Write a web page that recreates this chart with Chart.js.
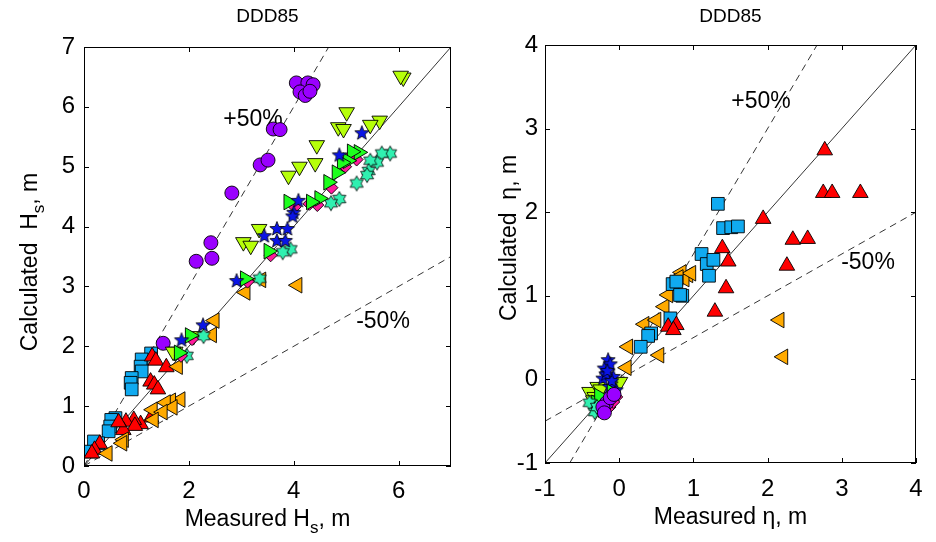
<!DOCTYPE html>
<html>
<head>
<meta charset="utf-8">
<title>DDD85</title>
<script src="https://cdn.jsdelivr.net/npm/chart.js@4.4.1/dist/chart.umd.min.js"></script>
<style>
  body { margin: 0; background: #fff; }
  #wrap { position: relative; width: 936px; height: 542px; }
  #wrap canvas { position: absolute; top: 0; }
</style>
</head>
<body>
<div id="wrap">
  <canvas id="hsChart" width="470" height="542" style="left:0;width:470px;height:542px"></canvas>
  <canvas id="etaChart" width="466" height="542" style="left:470px;width:466px;height:542px"></canvas>
</div>
<script>
// ---- significant wave height, measured vs calculated [m] ----
const hsCircle = [[4.05,6.40],[4.27,6.40],[4.37,6.37],[4.12,6.25],[4.22,6.19],[4.31,6.26],[3.61,5.63],[3.74,5.62],
  [3.36,5.03],[3.51,5.11],[2.82,4.56],[2.42,3.73],[2.14,3.42],[2.44,3.47],[1.51,2.05]];
const hsTriDown = [[6.09,6.49],[6.04,6.52],[5.01,5.91],[4.85,5.66],[4.95,5.63],[5.64,5.77],[5.46,5.70],[4.44,5.36],
  [4.41,5.06],[4.11,5.00],[3.90,4.85],[3.34,3.96],[3.04,3.74],[3.18,3.68],[2.09,2.17],[1.74,1.91],[1.70,1.91]];
const hsStar = [[5.30,5.56],[4.87,5.19],[4.09,4.43],[4.00,4.23],[3.98,4.17],[3.68,3.96],[3.88,3.96],[3.68,3.76],
  [3.84,3.76],[3.44,3.84],[2.91,3.09],[2.27,2.35],[1.86,2.10]];
const hsTriRight = [[5.24,5.24],[5.11,5.25],[5.03,5.10],[4.92,5.07],[4.82,4.90],[4.66,4.74],[4.49,4.47],[4.33,4.41],
  [3.90,4.41],[3.52,3.59],[3.07,3.13],[2.02,2.18],[1.81,1.89]];
const hsDiamond = [[5.20,5.12],[4.98,5.00],[4.72,4.65],[4.45,4.36],[4.02,4.33],[4.30,4.38],[3.56,3.52],[3.12,3.08],
  [2.06,2.12],[1.85,1.84],[5.08,5.18]];
const hsHex = [[5.84,5.22],[5.68,5.22],[5.59,5.07],[5.46,5.10],[5.43,4.93],[5.40,4.86],[5.20,4.72],[4.87,4.46],
  [4.71,4.39],[3.94,3.62],[3.79,3.57],[3.35,3.13],[2.28,2.17],[1.96,1.84]];
const hsTriLeft = [[4.07,3.02],[3.38,3.11],[3.08,2.90],[2.49,2.43],[2.44,2.19],[1.79,1.66],[1.84,1.11],[1.66,1.09],
  [1.56,1.06],[1.69,0.98],[1.31,0.94],[1.50,0.90],[1.33,0.77],[0.76,0.44],[0.73,0.38],[0.45,0.21]];
const hsTriUp = [[1.30,1.83],[1.37,1.76],[1.57,1.65],[1.27,1.41],[1.34,1.36],[1.41,1.28],[1.28,0.81],[1.08,0.70],
  [0.95,0.77],[0.80,0.74],[0.97,0.67],[0.75,0.60],[0.66,0.73],[0.30,0.37],[0.20,0.27],[0.15,0.21]];
const hsSquare = [[1.28,1.88],[1.10,1.78],[1.08,1.66],[1.10,1.58],[0.91,1.47],[0.89,1.39],[0.91,1.28],[0.60,0.80],
  [0.52,0.77],[0.50,0.66],[0.47,0.58],[0.27,0.38],[0.19,0.41],[0.13,0.24]];

// ---- set-up, measured vs calculated [m] ----
const etaTriUp = [[2.77,2.74],[2.75,2.23],[2.87,2.23],[3.25,2.23],[1.94,1.92],[1.39,1.57],[1.47,1.41],[1.44,1.09],
  [1.29,0.81],[2.34,1.67],[2.54,1.68],[2.26,1.36],[0.66,0.63],[0.77,0.65],[0.73,0.59]];
const etaSquare = [[1.33,2.10],[1.40,1.81],[1.51,1.82],[1.60,1.83],[1.11,1.50],[1.18,1.38],[1.27,1.43],[1.21,1.24],
  [0.72,1.14],[0.77,1.17],[0.85,1.00],[0.69,0.73],[0.43,0.55],[0.39,0.52],[0.29,0.39],[0.82,1.01]];
const etaTriLeft = [[2.16,0.71],[2.21,0.27],[0.54,0.29],[0.12,0.39],[0.10,0.14],[0.34,0.66],[0.50,0.71],[0.61,0.87],
  [0.66,1.01],[0.93,1.25],[0.84,1.28],[0.88,1.20],[0.97,1.27],[0.80,1.22]];
const etaStar = [[-0.15,0.23],[-0.20,0.13],[-0.22,0.01],[-0.08,0.03],[-0.13,-0.09],[-0.04,-0.13],[-0.12,0.18],
  [-0.18,0.06],[-0.10,-0.02],[-0.16,0.10]];
const etaTriDown = [[-0.40,-0.15],[-0.29,-0.09],[-0.33,-0.21],[-0.22,-0.21],[0.01,-0.03],[-0.25,-0.12],[-0.35,-0.25]];
const etaTriRight = [[-0.31,-0.28],[-0.22,-0.36],[-0.27,-0.20],[-0.10,-0.15]];
const etaHex = [[-0.40,-0.28],[-0.33,-0.39],[-0.30,-0.33]];
const etaCircle = [[-0.17,-0.28],[-0.22,-0.33],[-0.12,-0.22],[-0.20,-0.40],[-0.07,-0.18]];
const etaDiamond = [[-0.13,-0.33],[-0.04,-0.21],[-0.08,-0.27]];

// reference lines: 1:1 and +/-50 %
const hsLineEqual = [[0,0],[7,7]];
const hsLinePlus = [[0,0],[4.667,7]];
const hsLineMinus = [[0,0],[7,3.5]];
const etaLineEqual = [[-1,-1],[4,4]];
const etaLinePlus = [[-0.667,-1],[2.667,4]];
const etaLineMinus = [[-1,-0.5],[4,2]];

const hsTicksX = [0, 2, 4, 6];
const hsTicksY = [0, 1, 2, 3, 4, 5, 6, 7];
const etaTicks = [-1, 0, 1, 2, 3, 4];

const FONT = "'Liberation Sans', Arial, sans-serif";

function pts(arr) { return arr.map(p => ({ x: p[0], y: p[1] })); }

// filled star markers (5 points / 6 points) as small canvases
function starImage(n, outer, inner, fill) {
  const c = document.createElement('canvas');
  const s = Math.ceil(outer * 2 + 3);
  c.width = s; c.height = s;
  const g = c.getContext('2d');
  g.beginPath();
  for (let i = 0; i < n * 2; i++) {
    const r = i % 2 ? inner : outer;
    const a = -Math.PI / 2 + i * Math.PI / n;
    const px = s / 2 + r * Math.cos(a), py = s / 2 + r * Math.sin(a);
    if (i) g.lineTo(px, py); else g.moveTo(px, py);
  }
  g.closePath();
  g.fillStyle = fill; g.fill();
  g.strokeStyle = '#000'; g.lineWidth = 0.8; g.stroke();
  return c;
}
const starBlue = starImage(5, 7.5, 3.2, '#0a14e6');
const hexAqua = starImage(6, 7.5, 4.4, '#30f0b0');

const C = {
  purple: '#9a00ff', lime: '#b6ff0a', blue: '#0a14e6', green: '#1eff1e', pink: '#ff1a9c',
  aqua: '#30f0b0', orange: '#ffaa00', red: '#ff0000', sky: '#10aaf0'
};

function marker(data, style, color, radius, rotation, order) {
  return {
    data: pts(data), pointStyle: style, pointRadius: radius, pointHoverRadius: radius,
    pointRotation: rotation, backgroundColor: color, borderColor: '#000', borderWidth: 0.9,
    showLine: false, order: order
  };
}
function refLine(data, dashed) {
  return {
    data: pts(data), showLine: true, borderColor: '#000', borderWidth: 0.8,
    borderDash: dashed ? [7, 5] : [], pointRadius: 0, pointHoverRadius: 0, fill: false, order: 100
  };
}

// box around the axes with inward tick marks
const boxTicks = {
  id: 'boxTicks',
  afterDatasetsDraw(chart) {
    const { ctx, chartArea: a, scales: { x, y } } = chart;
    ctx.save();
    ctx.strokeStyle = '#000';
    ctx.lineWidth = 1;
    ctx.strokeRect(a.left + 0.5, a.top + 0.5, a.right - a.left - 1, a.bottom - a.top - 1);
    ctx.beginPath();
    x.ticks.forEach(t => {
      const px = Math.round(x.getPixelForValue(t.value)) + 0.5;
      ctx.moveTo(px, a.bottom); ctx.lineTo(px, a.bottom - 5);
      ctx.moveTo(px, a.top); ctx.lineTo(px, a.top + 5);
    });
    y.ticks.forEach(t => {
      const py = Math.round(y.getPixelForValue(t.value)) + 0.5;
      ctx.moveTo(a.left, py); ctx.lineTo(a.left + 5, py);
      ctx.moveTo(a.right, py); ctx.lineTo(a.right - 5, py);
    });
    ctx.stroke();
    ctx.restore();
  }
};

// text pieces with optional subscript, centred on (cx, cy)
function drawParts(ctx, parts, cx, cy, size) {
  const subSize = Math.round(size * 0.72);
  let w = 0;
  parts.forEach(p => {
    ctx.font = (p.sub ? subSize : size) + 'px ' + FONT;
    w += ctx.measureText(p.t).width;
  });
  let x = cx - w / 2;
  ctx.textAlign = 'left';
  ctx.textBaseline = 'middle';
  parts.forEach(p => {
    ctx.font = (p.sub ? subSize : size) + 'px ' + FONT;
    ctx.fillText(p.t, x, p.sub ? cy + size * 0.38 : cy);
    x += ctx.measureText(p.t).width;
  });
}

const panelText = {
  id: 'panelText',
  beforeDatasetsDraw(chart, args, o) {
    const ctx = chart.ctx;
    ctx.save();
    ctx.fillStyle = '#000';
    o.notes.forEach(n => drawParts(ctx, [{ t: n.t }], n.x, n.y, 23));
    ctx.restore();
  },
  afterDraw(chart, args, o) {
    const ctx = chart.ctx;
    const a = chart.chartArea;
    ctx.save();
    ctx.fillStyle = '#000';
    drawParts(ctx, [{ t: o.title }], (a.left + a.right) / 2, 17, 19);
    drawParts(ctx, o.xLabel, (a.left + a.right) / 2, o.xLabelY, 23);
    ctx.translate(o.yLabelX, o.yLabelY);
    ctx.rotate(-Math.PI / 2);
    drawParts(ctx, o.yLabel, 0, 0, 23);
    ctx.restore();
  }
};

function axis(min, max, values, pad, fixedSize, isX) {
  return {
    type: 'linear', min: min, max: max, bounds: 'data',
    grid: { display: false, drawTicks: false }, border: { display: false },
    ticks: { stepSize: 1, color: '#000', padding: pad, font: { family: FONT, size: 24 } },
    afterBuildTicks: s => { s.ticks = values.map(v => ({ value: v })); },
    afterFit: s => { if (isX) s.height = fixedSize; else s.width = fixedSize; }
  };
}

function baseOptions(padding, xAxis, yAxis, text) {
  return {
    responsive: false, animation: false, events: [],
    layout: { padding: padding },
    scales: { x: xAxis, y: yAxis },
    plugins: { legend: { display: false }, tooltip: { enabled: false }, panelText: text }
  };
}

new Chart(document.getElementById('hsChart'), {
  type: 'scatter',
  data: {
    datasets: [
      marker(hsStar, starBlue, C.blue, 6, 0, 1),
      marker(hsTriRight, 'triangle', C.green, 9, 90, 2),
      marker(hsDiamond, 'rectRot', C.pink, 6.5, 0, 3),
      marker(hsHex, hexAqua, C.aqua, 6, 0, 4),
      marker(hsTriDown, 'triangle', C.lime, 9, 180, 5),
      marker(hsCircle, 'circle', C.purple, 7, 0, 6),
      marker(hsTriLeft, 'triangle', C.orange, 9, 270, 7),
      marker(hsTriUp, 'triangle', C.red, 9, 0, 8),
      marker(hsSquare, 'rect', C.sky, 9, 0, 9),
      refLine(hsLineEqual, false),
      refLine(hsLinePlus, true),
      refLine(hsLineMinus, true)
    ]
  },
  options: baseOptions({ top: 47, right: 19, left: 0, bottom: 0 },
    axis(0, 7, hsTicksX, 11, 76, true),
    axis(0, 7, hsTicksY, 9, 84, false),
    {
      title: 'DDD85',
      notes: [{ t: '+50%', x: 253, y: 120 }, { t: '-50%', x: 383, y: 322 }],
      xLabel: [{ t: 'Measured H' }, { t: 's', sub: true }, { t: ', m' }], xLabelY: 520,
      yLabel: [{ t: 'Calculated  H' }, { t: 's', sub: true }, { t: ', m' }], yLabelX: 31, yLabelY: 262
    }),
  plugins: [boxTicks, panelText]
});

new Chart(document.getElementById('etaChart'), {
  type: 'scatter',
  data: {
    datasets: [
      marker(etaCircle, 'circle', C.purple, 7, 0, 1),
      marker(etaDiamond, 'rectRot', C.pink, 6.5, 0, 2),
      marker(etaHex, hexAqua, C.aqua, 6, 0, 3),
      marker(etaTriRight, 'triangle', C.green, 9, 90, 4),
      marker(etaStar, starBlue, C.blue, 6, 0, 5),
      marker(etaTriDown, 'triangle', C.lime, 9, 180, 6),
      marker(etaTriUp, 'triangle', C.red, 9, 0, 7),
      marker(etaSquare, 'rect', C.sky, 9, 0, 8),
      marker(etaTriLeft, 'triangle', C.orange, 9, 270, 9),
      refLine(etaLineEqual, false),
      refLine(etaLinePlus, true),
      refLine(etaLineMinus, true)
    ]
  },
  options: baseOptions({ top: 45, right: 20, left: 0, bottom: 0 },
    axis(-1, 4, etaTicks, 12, 79, true),
    axis(-1, 4, etaTicks, 7, 75, false),
    {
      title: 'DDD85',
      notes: [{ t: '+50%', x: 291, y: 102 }, { t: '-50%', x: 398, y: 263 }],
      xLabel: [{ t: 'Measured \u03b7, m' }], xLabelY: 518,
      yLabel: [{ t: 'Calculated  \u03b7, m' }], yLabelX: 40, yLabelY: 238
    }),
  plugins: [boxTicks, panelText]
});
</script>
</body>
</html>
